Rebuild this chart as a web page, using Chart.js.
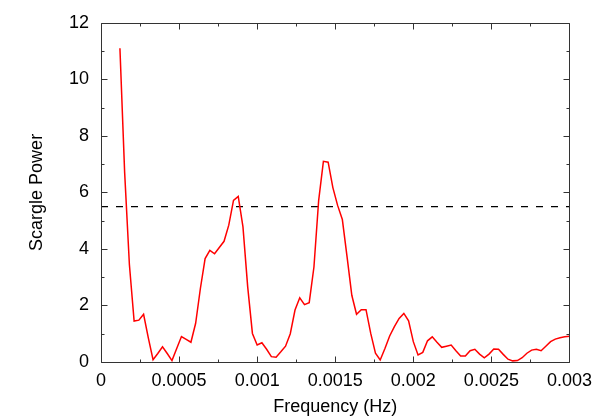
<!DOCTYPE html>
<html>
<head>
<meta charset="utf-8">
<title>Scargle periodogram</title>
<script src="https://cdn.jsdelivr.net/npm/chart.js@4/dist/chart.umd.min.js"></script>
<style>
  html, body { margin: 0; padding: 0; background: #fff; }
  #wrap { width: 600px; height: 420px; }
</style>
</head>
<body>
<div id="wrap"><canvas id="chart" width="600" height="420"></canvas></div>
<script>
// frequencies (Hz) of the periodogram samples
var freq = [
  0.0001212, 0.0001515, 0.0001818, 0.0002121, 0.0002424, 0.0002727, 0.0003030, 0.0003333,
  0.0003636, 0.0003939, 0.0004242, 0.0004545, 0.0004848, 0.0005152, 0.0005455, 0.0005758,
  0.0006061, 0.0006364, 0.0006667, 0.0006970, 0.0007273, 0.0007576, 0.0007879, 0.0008182,
  0.0008485, 0.0008788, 0.0009091, 0.0009394, 0.0009697, 0.0010000, 0.0010303, 0.0010606,
  0.0010909, 0.0011212, 0.0011515, 0.0011818, 0.0012121, 0.0012424, 0.0012727, 0.0013030,
  0.0013333, 0.0013636, 0.0013939, 0.0014242, 0.0014545, 0.0014848, 0.0015152, 0.0015455,
  0.0015758, 0.0016061, 0.0016364, 0.0016667, 0.0016970, 0.0017273, 0.0017576, 0.0017879,
  0.0018182, 0.0018485, 0.0018788, 0.0019091, 0.0019394, 0.0019697, 0.0020000, 0.0020303,
  0.0020606, 0.0020909, 0.0021212, 0.0021515, 0.0021818, 0.0022121, 0.0022424, 0.0022727,
  0.0023030, 0.0023333, 0.0023636, 0.0023939, 0.0024242, 0.0024545, 0.0024848, 0.0025152,
  0.0025455, 0.0025758, 0.0026061, 0.0026364, 0.0026667, 0.0026970, 0.0027273, 0.0027576,
  0.0027879, 0.0028182, 0.0028485, 0.0028788, 0.0029091, 0.0029394, 0.0029697, 0.0030000
];

// Scargle power at each frequency
var power = [
  11.1, 6.7, 3.45, 1.45, 1.48, 1.69, 0.85, 0.08,
  0.3, 0.54, 0.3, 0.05, 0.48, 0.9, 0.8, 0.7,
  1.37, 2.6, 3.66, 3.95, 3.83, 4.05, 4.27, 4.84,
  5.72, 5.86, 4.78, 2.66, 1.01, 0.6, 0.68, 0.45,
  0.19, 0.17, 0.36, 0.56, 1.0, 1.84, 2.27, 2.03,
  2.1, 3.36, 5.72, 7.1, 7.07, 6.17, 5.54, 5.04,
  3.72, 2.36, 1.69, 1.85, 1.85, 1.01, 0.31, 0.07,
  0.48, 0.92, 1.25, 1.54, 1.72, 1.46, 0.72, 0.25,
  0.34, 0.75, 0.89, 0.7, 0.52, 0.56, 0.6, 0.4,
  0.21, 0.21, 0.4, 0.45, 0.28, 0.15, 0.28, 0.46,
  0.45, 0.27, 0.1, 0.04, 0.05, 0.15, 0.31, 0.42,
  0.45, 0.4, 0.56, 0.72, 0.81, 0.86, 0.89, 0.91
];

// significance level (dashed line)
var thresholdX = [0, 0.003];
var thresholdY = [5.5, 5.5];

// axis ticks
var xTicks = [0, 0.0005, 0.001, 0.0015, 0.002, 0.0025, 0.003];
var xTickLabels = ['0', '0.0005', '0.001', '0.0015', '0.002', '0.0025', '0.003'];
var xMinorTicks = [0.00025, 0.00075, 0.00125, 0.00175, 0.00225, 0.00275];
var yTicks = [0, 2, 4, 6, 8, 10, 12];
var yMinorTicks = [1, 3, 5, 7, 9, 11];

(function () {
  'use strict';

  var FONT = '"Liberation Sans", Arial, sans-serif';

  function toPoints(xs, ys) {
    return xs.map(function (x, i) {
      return { x: x, y: ys[i] };
    });
  }

  // gnuplot style frame with inward major/minor ticks on all four sides
  var framePlugin = {
    id: 'frame',
    afterDatasetsDraw: function (chart) {
      var ctx = chart.ctx;
      var a = chart.chartArea;
      var xs = chart.scales.x;
      var ys = chart.scales.y;
      var l = Math.round(a.left) + 0.5;
      var r = Math.round(a.right) + 0.5;
      var t = Math.round(a.top) + 0.5;
      var b = Math.round(a.bottom) + 0.5;
      ctx.save();
      ctx.strokeStyle = '#333';
      ctx.lineWidth = 1;
      ctx.beginPath();
      ctx.rect(l, t, r - l, b - t);

      function xTick(v, len) {
        var px = Math.round(xs.getPixelForValue(v)) + 0.5;
        ctx.moveTo(px, b); ctx.lineTo(px, b - len);
        ctx.moveTo(px, t); ctx.lineTo(px, t + len);
      }
      function yTick(v, len) {
        var py = Math.round(ys.getPixelForValue(v)) + 0.5;
        ctx.moveTo(l, py); ctx.lineTo(l + len, py);
        ctx.moveTo(r, py); ctx.lineTo(r - len, py);
      }
      xTicks.forEach(function (v) { xTick(v, 6); });
      xMinorTicks.forEach(function (v) { xTick(v, 3); });
      yTicks.forEach(function (v) { yTick(v, 6); });
      yMinorTicks.forEach(function (v) { yTick(v, 3); });
      ctx.stroke();
      ctx.restore();
    }
  };

  new Chart(document.getElementById('chart'), {
    type: 'line',
    data: {
      datasets: [
        {
          data: toPoints(freq, power),
          borderColor: '#ff0000',
          borderWidth: 1.5,
          pointRadius: 0,
          tension: 0,
          fill: false
        },
        {
          data: toPoints(thresholdX, thresholdY),
          borderColor: '#000',
          borderWidth: 1.2,
          borderDash: [7, 8],
          pointRadius: 0,
          fill: false
        }
      ]
    },
    options: {
      responsive: false,
      animation: false,
      layout: { padding: { left: 0, right: 28, top: 22, bottom: 0 } },
      plugins: {
        legend: { display: false },
        tooltip: { enabled: false }
      },
      scales: {
        x: {
          type: 'linear',
          min: 0,
          max: 0.003,
          afterFit: function (scale) { scale.height = 58; },
          afterBuildTicks: function (scale) {
            scale.ticks = xTicks.map(function (v) { return { value: v }; });
          },
          ticks: {
            color: '#000',
            padding: 8,
            maxRotation: 0,
            autoSkip: false,
            font: { family: FONT, size: 18 },
            callback: function (v) {
              var i = xTicks.indexOf(v);
              return i >= 0 ? xTickLabels[i] : '';
            }
          },
          grid: { display: false, drawTicks: false },
          border: { display: false },
          title: {
            display: true,
            text: 'Frequency (Hz)',
            color: '#000',
            font: { family: FONT, size: 18 },
            padding: { top: 0, bottom: 2 }
          }
        },
        y: {
          type: 'linear',
          min: 0,
          max: 12,
          afterFit: function (scale) { scale.width = 101; },
          afterBuildTicks: function (scale) {
            scale.ticks = yTicks.map(function (v) { return { value: v }; });
          },
          ticks: {
            color: '#000',
            padding: 12,
            font: { family: FONT, size: 18 },
            callback: function (v) { return String(v); }
          },
          grid: { display: false, drawTicks: false },
          border: { display: false },
          title: {
            display: true,
            text: 'Scargle Power',
            color: '#000',
            font: { family: FONT, size: 18 },
            padding: { top: 26, bottom: 0 }
          }
        }
      }
    },
    plugins: [framePlugin]
  });
})();
</script>
</body>
</html>
